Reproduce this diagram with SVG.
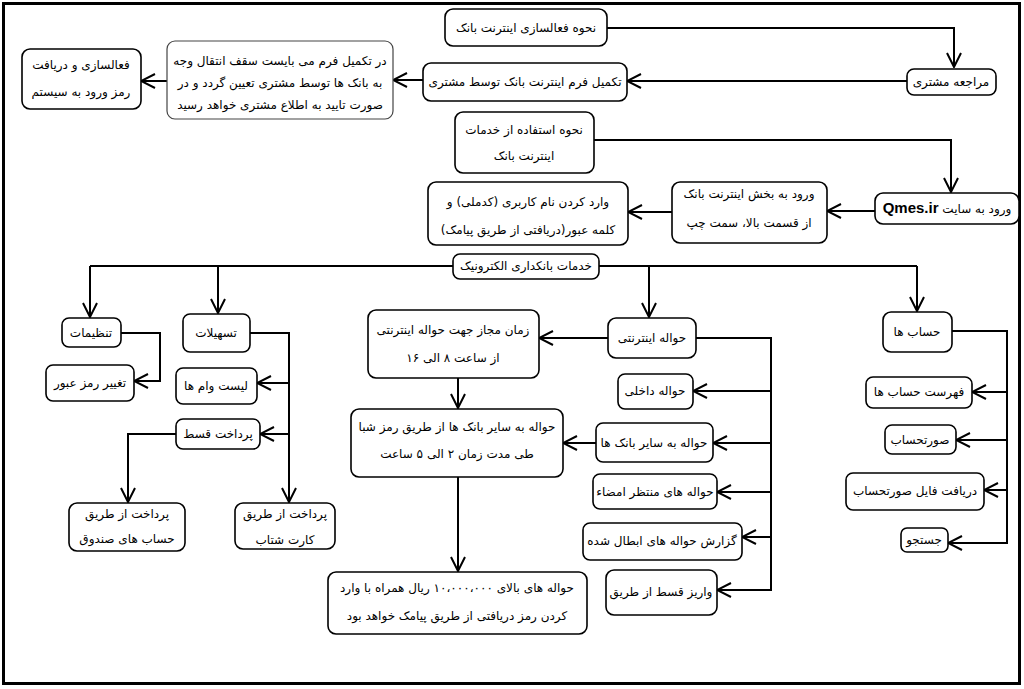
<svg xmlns="http://www.w3.org/2000/svg" width="1024" height="689" viewBox="0 0 1024 689">
<defs>
<marker id="arr" viewBox="0 0 16 16" refX="15" refY="8" markerWidth="16" markerHeight="16" markerUnits="userSpaceOnUse" orient="auto">
<path d="M1,1 L15,8 L1,15" fill="none" stroke="#000" stroke-width="2"/>
</marker>
<style>
.n rect{fill:#fff;stroke:#000;stroke-width:1.6}
.n text{font-family:"DejaVu Sans",sans-serif;font-size:12px;text-anchor:middle;direction:rtl;fill:#000}
.c path{fill:none;stroke:#000;stroke-width:2}
.c .a{marker-end:url(#arr)}
.q{font-family:"Liberation Sans",Arial,sans-serif;font-weight:bold;font-size:15px}
</style>
</defs>
<rect width="1024" height="689" fill="#fff"/>
<rect x="3.5" y="3.5" width="1016" height="680" fill="none" stroke="#000" stroke-width="3"/>

<g class="c" id="connectors">
<path class="a" d="M607,28 H954 V67"/>
<path class="a" d="M907,81 H627"/>
<path class="a" d="M423,80 H393"/>
<path class="a" d="M167,81 H141"/>
<path class="a" d="M594,140 H951 V192"/>
<path class="a" d="M875,211 H827"/>
<path class="a" d="M672,212 H628"/>
<path d="M90,266 H453 M599,266 H917"/>
<path class="a" d="M90,266 V317"/>
<path class="a" d="M218,266 V313"/>
<path class="a" d="M649,266 V317"/>
<path class="a" d="M917,266 V311"/>
<path class="a" d="M121,333 H160 V381 H134"/>
<path class="a" d="M250,333 H289 V502"/>
<path class="a" d="M289,383 H257"/>
<path class="a" d="M289,434 H260"/>
<path class="a" d="M176,434 H128 V502"/>
<path class="a" d="M608,338 H539"/>
<path class="a" d="M458,378 V408"/>
<path class="a" d="M596,443 H563"/>
<path class="a" d="M458,477 V571"/>
<path class="a" d="M696,338 H771 V590 H717"/>
<path class="a" d="M771,391 H693"/>
<path class="a" d="M771,443 H713"/>
<path class="a" d="M771,492 H717"/>
<path class="a" d="M771,537 H742"/>
<path class="a" d="M952,331 H1007 V543 H948"/>
<path class="a" d="M1007,392 H972"/>
<path class="a" d="M1007,440 H956"/>
<path class="a" d="M1007,490 H984"/>
</g>

<g class="n" id="n1"><rect x="445" y="9" width="162" height="37" rx="8"/><text x="526" y="32">نحوه فعالسازی اینترنت بانک</text></g>
<g class="n" id="n2"><rect x="907" y="69" width="89" height="26" rx="7"/><text x="951" y="86">مراجعه مشتری</text></g>
<g class="n" id="n3"><rect x="423" y="63" width="204" height="38" rx="8"/><text x="525" y="86">تکمیل فرم اینترنت بانک توسط مشتری</text></g>
<g class="n" id="n4"><rect x="167" y="41" width="226" height="78" rx="8" style="stroke:#444;stroke-width:1.2"/><text x="280" y="65">در تکمیل فرم می بایست سقف انتقال وجه</text><text x="280" y="87">به بانک ها توسط مشتری تعیین گردد و در</text><text x="280" y="109">صورت تایید به اطلاع مشتری خواهد رسید</text></g>
<g class="n" id="n5"><rect x="22" y="49" width="119" height="60" rx="8"/><text x="81" y="69">فعالسازی و دریافت</text><text x="81" y="96">رمز ورود به سیستم</text></g>
<g class="n" id="n6"><rect x="455" y="112" width="139" height="61" rx="8"/><text x="524" y="134">نحوه استفاده از خدمات</text><text x="524" y="160">اینترنت بانک</text></g>
<g class="n" id="n7"><rect x="875" y="193" width="144" height="31" rx="8"/><text x="947" y="213">ورود به سایت <tspan class="q">Qmes.ir</tspan></text></g>
<g class="n" id="n8"><rect x="672" y="182" width="155" height="61" rx="8"/><text x="749" y="198">ورود به بخش اینترنت بانک</text><text x="749" y="227">از قسمت بالا، سمت چپ</text></g>
<g class="n" id="n9"><rect x="428" y="182" width="200" height="63" rx="8"/><text x="528" y="206">وارد کردن نام کاربری (کدملی) و</text><text x="528" y="234">کلمه عبور(دریافتی از طریق پیامک)</text></g>
<g class="n" id="n10"><rect x="453" y="254" width="146" height="25" rx="7"/><text x="526" y="270">خدمات بانکداری الکترونیک</text></g>
<g class="n" id="n11"><rect x="62" y="318" width="59" height="29" rx="7"/><text x="91" y="337">تنظیمات</text></g>
<g class="n" id="n12"><rect x="46" y="365" width="88" height="36" rx="7"/><text x="90" y="387">تغییر رمز عبور</text></g>
<g class="n" id="n13"><rect x="183" y="314" width="67" height="38" rx="7"/><text x="216" y="337">تسهیلات</text></g>
<g class="n" id="n14"><rect x="176" y="368" width="81" height="36" rx="7"/><text x="216" y="390">لیست وام ها</text></g>
<g class="n" id="n15"><rect x="176" y="419" width="84" height="30" rx="7"/><text x="218" y="438">پرداخت قسط</text></g>
<g class="n" id="n16"><rect x="69" y="503" width="116" height="48" rx="8"/><text x="127" y="518">پرداخت از طریق</text><text x="127" y="543">حساب های صندوق</text></g>
<g class="n" id="n17"><rect x="235" y="503" width="100" height="46" rx="8"/><text x="285" y="518">پرداخت از طریق</text><text x="285" y="544">کارت شتاب</text></g>
<g class="n" id="n18"><rect x="608" y="318" width="88" height="40" rx="8"/><text x="652" y="342">حواله اینترنتی</text></g>
<g class="n" id="n19"><rect x="368" y="310" width="171" height="68" rx="8"/><text x="453" y="334">زمان مجاز جهت حواله اینترنتی</text><text x="453" y="362">از ساعت ۸ الی ۱۶</text></g>
<g class="n" id="n20"><rect x="351" y="409" width="212" height="68" rx="8"/><text x="457" y="431">حواله به سایر بانک ها از طریق رمز شبا</text><text x="457" y="458">طی مدت زمان ۲ الی ۵ ساعت</text></g>
<g class="n" id="n21"><rect x="618" y="374" width="75" height="35" rx="7"/><text x="655" y="395">حواله داخلی</text></g>
<g class="n" id="n22"><rect x="596" y="423" width="117" height="39" rx="7"/><text x="654" y="447">حواله به سایر بانک ها</text></g>
<g class="n" id="n23"><rect x="593" y="474" width="124" height="35" rx="7"/><text x="655" y="496">حواله های منتظر امضاء</text></g>
<g class="n" id="n24"><rect x="583" y="523" width="159" height="37" rx="7"/><text x="662" y="545">گزارش حواله های ابطال شده</text></g>
<g class="n" id="n25"><rect x="606" y="570" width="111" height="45" rx="8"/><text x="661" y="596">واریز قسط از طریق</text></g>
<g class="n" id="n26"><rect x="328" y="572" width="259" height="62" rx="8"/><text x="457" y="592">حواله های بالای ۱۰،۰۰۰،۰۰۰ ریال همراه با وارد</text><text x="457" y="620">کردن رمز دریافتی از طریق پیامک خواهد بود</text></g>
<g class="n" id="n27"><rect x="883" y="312" width="69" height="40" rx="8"/><text x="917" y="336">حساب ها</text></g>
<g class="n" id="n28"><rect x="866" y="377" width="106" height="31" rx="7"/><text x="919" y="396">فهرست حساب ها</text></g>
<g class="n" id="n29"><rect x="885" y="425" width="71" height="29" rx="7"/><text x="920" y="444">صورتحساب</text></g>
<g class="n" id="n30"><rect x="846" y="473" width="138" height="37" rx="7"/><text x="915" y="495">دریافت فایل صورتحساب</text></g>
<g class="n" id="n31"><rect x="901" y="528" width="47" height="24" rx="6"/><text x="924" y="544">جستجو</text></g>
</svg>
